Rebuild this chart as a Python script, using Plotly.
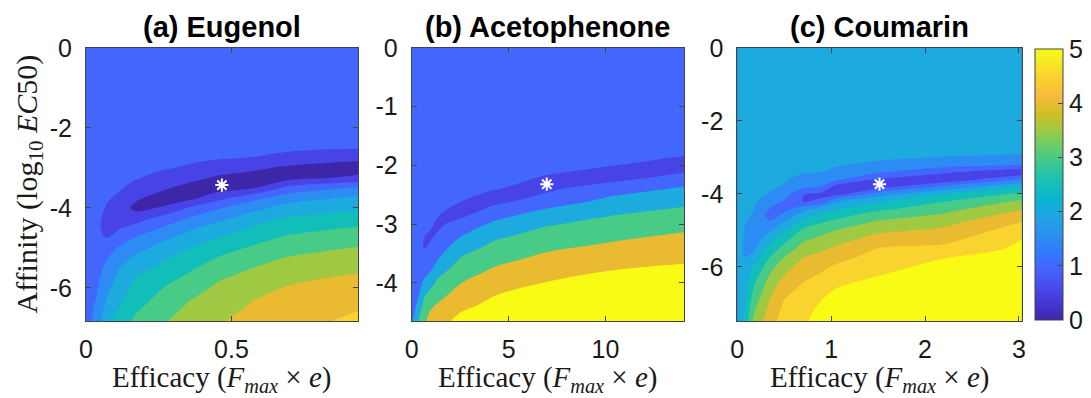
import numpy as np
import plotly.graph_objects as go

# ---------------- data ----------------
titles = ["(a) Eugenol", "(b) Acetophenone", "(c) Coumarin"]

# Panel (a): grid columns (efficacy) and rows (log10 EC50); z listed per column
a_x = [0, 0.034, 0.069, 0.114, 0.172, 0.275, 0.36, 0.45, 0.57, 0.69, 0.81, 0.935]
a_y = [0, -1, -2, -2.5, -2.75, -3, -3.25, -3.5, -3.75, -4, -4.25, -4.5, -4.75,
       -5, -5.25, -5.5, -5.75, -6, -6.25, -6.5, -6.83]
a_cols = [
    [1.4, 1.4, 1.4, 1.4, 1.4, 1.4, 1.4, 1.4, 1.4, 1.4, 1.4, 1.4, 1.4, 1.4, 1.4, 1.4, 1.4, 1.38, 1.34, 1.3, 1.2],
    [1.4, 1.4, 1.38, 1.36, 1.34, 1.32, 1.29, 1.25, 1.2, 1.16, 1.12, 1.1, 1.1, 1.14, 1.2, 1.27, 1.34, 1.42, 1.49, 1.57, 1.65],
    [1.4, 1.39, 1.36, 1.32, 1.29, 1.24, 1.18, 1.11, 1.05, 0.98, 0.9, 0.89, 0.99, 1.22, 1.45, 1.6, 1.725, 1.85, 1.975, 2.1, 2.3],
    [1.4, 1.38, 1.34, 1.28, 1.24, 1.18, 1.11, 1.04, 0.93, 0.78, 0.83, 0.96, 1.24, 1.56, 1.78, 1.99, 2.13, 2.26, 2.39, 2.52, 2.75],
    [1.4, 1.37, 1.3, 1.22, 1.17, 1.1, 1.03, 0.87, 0.58, 0.36, 0.76, 1.19, 1.53, 1.83, 2.09, 2.31, 2.53, 2.65, 2.785, 2.92, 3.1],
    [1.4, 1.36, 1.28, 1.18, 1.12, 1.03, 0.82, 0.55, 0.26, 0.58, 1.21, 1.57, 1.93, 2.21, 2.47, 2.66, 2.85, 3.03, 3.17, 3.31, 3.48],
    [1.4, 1.36, 1.27, 1.16, 1.08, 0.94, 0.66, 0.3, 0.36, 1.07, 1.53, 1.92, 2.22, 2.49, 2.72, 2.93, 3.12, 3.29, 3.47, 3.6, 3.75],
    [1.4, 1.35, 1.25, 1.12, 1.04, 0.8, 0.42, 0.25, 0.82, 1.43, 1.85, 2.19, 2.49, 2.75, 3.01, 3.22, 3.43, 3.58, 3.69, 3.8, 3.95],
    [1.4, 1.35, 1.23, 1.1, 0.99, 0.62, 0.25, 0.42, 1.33, 1.83, 2.21, 2.53, 2.8, 3.06, 3.28, 3.49, 3.66, 3.81, 3.97, 4.05, 4.15],
    [1.4, 1.35, 1.22, 1.08, 0.88, 0.4, 0.3, 1.12, 1.75, 2.19, 2.53, 2.81, 3.07, 3.3, 3.52, 3.7, 3.87, 4.03, 4.11, 4.19, 4.3],
    [1.4, 1.33, 1.18, 1.05, 0.74, 0.28, 0.47, 1.36, 1.94, 2.31, 2.64, 2.93, 3.18, 3.42, 3.63, 3.81, 3.99, 4.11, 4.21, 4.31, 4.45],
    [1.4, 1.32, 1.15, 1.03, 0.63, 0.25, 0.62, 1.57, 2.07, 2.43, 2.74, 3.03, 3.28, 3.52, 3.72, 3.91, 4.07, 4.2, 4.33, 4.46, 4.63],
]

# Panel (b)
b_x = [0, 0.15, 0.35, 0.65, 0.95, 1.35, 2.55, 4.25, 7.0, 10.3, 14.05]
b_y = [0, -1, -1.6, -1.8, -2.0, -2.2, -2.4, -2.6, -2.8, -3.0, -3.2, -3.4, -3.6,
       -3.8, -4.0, -4.2, -4.4, -4.65]
b_cols = [
    [1.6, 1.6, 1.6, 1.6, 1.6, 1.6, 1.6, 1.6, 1.6, 1.6, 1.6, 1.6, 1.6, 1.6, 1.6, 1.6, 1.7, 1.9],
    [1.6, 1.6, 1.59, 1.59, 1.58, 1.57, 1.56, 1.54, 1.52, 1.49, 1.45, 1.41, 1.4, 1.45, 1.55, 1.68, 1.85, 2.2],
    [1.6, 1.59, 1.57, 1.56, 1.54, 1.52, 1.49, 1.45, 1.4, 1.33, 1.25, 1.18, 1.2, 1.4, 1.65, 1.9, 2.35, 3.05],
    [1.6, 1.58, 1.55, 1.53, 1.5, 1.46, 1.41, 1.34, 1.25, 1.14, 1.01, 0.95, 1.36, 1.73, 2.17, 2.86, 3.37, 3.9],
    [1.6, 1.57, 1.53, 1.5, 1.47, 1.42, 1.36, 1.29, 1.2, 1.12, 0.9, 1.1, 1.6, 1.95, 2.6, 3.3, 3.87, 4.25],
    [1.6, 1.56, 1.5, 1.47, 1.43, 1.38, 1.31, 1.23, 1.08, 0.86, 1.09, 1.53, 1.98, 2.66, 3.22, 3.67, 4.12, 4.75],
    [1.6, 1.54, 1.46, 1.41, 1.34, 1.27, 1.17, 1.02, 0.68, 1.32, 1.97, 2.56, 3.11, 3.54, 3.98, 4.42, 4.87, 5.2],
    [1.6, 1.52, 1.4, 1.33, 1.25, 1.14, 1.02, 0.75, 1.4, 2.21, 2.79, 3.28, 3.72, 4.15, 4.56, 4.98, 5.17, 5.4],
    [1.6, 1.5, 1.35, 1.26, 1.14, 0.97, 0.85, 1.35, 2.32, 2.91, 3.39, 3.84, 4.27, 4.69, 5.04, 5.21, 5.39, 5.6],
    [1.6, 1.5, 1.3, 1.2, 1.03, 0.6, 1.53, 2.28, 2.87, 3.34, 3.78, 4.21, 4.63, 5.02, 5.17, 5.31, 5.45, 5.7],
    [1.6, 1.45, 1.2, 1.12, 0.54, 1.29, 2.15, 2.74, 3.25, 3.7, 4.14, 4.53, 4.92, 5.13, 5.29, 5.44, 5.6, 5.8],
]

# Panel (c)
c_x = [0, 0.07, 0.175, 0.35, 0.5, 0.7, 0.88, 1.06, 1.5, 2.2, 3.03]
c_y = [0, -1, -2, -2.6, -2.8, -3.0, -3.2, -3.4, -3.6, -3.8, -4.0, -4.2, -4.4,
       -4.6, -4.8, -5.0, -5.25, -5.5, -5.75, -6.0, -6.5, -7.0, -7.48]
c_cols = [
    [2.35, 2.35, 2.35, 2.35, 2.35, 2.35, 2.35, 2.35, 2.35, 2.35, 2.35, 2.35, 2.35, 2.35, 2.35, 2.35, 2.35, 2.35, 2.35, 2.35, 2.35, 2.35, 2.3],
    [2.35, 2.34, 2.33, 2.32, 2.31, 2.3, 2.29, 2.28, 2.26, 2.24, 2.22, 2.19, 2.16, 2.12, 2.07, 2.02, 1.96, 1.92, 2.01, 2.08, 2.22, 2.38, 2.55],
    [2.35, 2.33, 2.3, 2.27, 2.26, 2.24, 2.22, 2.2, 2.17, 2.14, 2.11, 2.07, 2.03, 1.93, 1.6, 1.53, 1.7, 1.9, 2.17, 2.51, 2.96, 3.3, 3.6],
    [2.35, 2.32, 2.28, 2.23, 2.21, 2.18, 2.15, 2.11, 2.07, 2.03, 1.98, 1.74, 1.49, 1.3, 1.64, 1.95, 2.34, 2.7, 3.04, 3.34, 3.77, 4.09, 4.3],
    [2.35, 2.32, 2.27, 2.21, 2.18, 2.15, 2.11, 2.07, 2.03, 1.98, 1.74, 1.45, 1.32, 1.65, 2.07, 2.44, 2.84, 3.2, 3.53, 3.81, 4.23, 4.56, 4.7],
    [2.35, 2.31, 2.25, 2.18, 2.14, 2.1, 2.06, 2.03, 1.91, 1.67, 1.02, 0.97, 1.75, 2.35, 2.74, 3.08, 3.42, 3.71, 3.99, 4.2, 4.55, 4.75, 4.93],
    [2.35, 2.3, 2.24, 2.16, 2.12, 2.09, 2.05, 2.01, 1.76, 1.49, 0.92, 1.05, 2.12, 2.6, 2.99, 3.29, 3.62, 3.91, 4.15, 4.38, 4.73, 5.02, 5.15],
    [2.35, 2.3, 2.22, 2.15, 2.11, 2.07, 2.03, 1.91, 1.59, 0.8, 0.78, 1.96, 2.45, 2.86, 3.2, 3.51, 3.82, 4.1, 4.35, 4.58, 4.97, 5.15, 5.25],
    [2.35, 2.3, 2.22, 2.14, 2.1, 2.05, 1.93, 1.56, 0.99, 0.75, 1.75, 2.39, 2.86, 3.28, 3.62, 3.89, 4.21, 4.51, 4.69, 4.88, 5.12, 5.25, 5.32],
    [2.35, 2.3, 2.2, 2.12, 2.08, 1.99, 1.7, 1.1, 0.6, 1.6, 2.49, 2.97, 3.3, 3.6, 3.87, 4.1, 4.35, 4.64, 4.99, 5.12, 5.25, 5.33, 5.4],
    [2.35, 2.3, 2.25, 2.2, 2.15, 1.87, 1.53, 0.6, 1.52, 2.48, 3.1, 3.57, 3.93, 4.25, 4.54, 4.75, 5.01, 5.1, 5.2, 5.28, 5.4, 5.45, 5.45],
]

# best-fit markers (efficacy, log10 EC50)
star_x = [0.467, 6.97, 1.515]
star_y = [-3.43, -2.32, -3.73]

# tick values
a_xticks = [0, 0.5]
a_yticks = [0, -2, -4, -6]
b_xticks = [0, 5, 10]
b_yticks = [0, -1, -2, -3, -4]
c_xticks = [0, 1, 2, 3]
c_yticks = [0, -2, -4, -6]
cbar_ticks = [0, 1, 2, 3, 4, 5]

# ---------------- styling ----------------
W, H = 1091, 398
# parula band colours for levels 0, 0.5, ..., 5
band = ["#3e26a8", "#4743e7", "#4367fd", "#2d8cf3", "#1caadf", "#12beb9",
        "#48cb86", "#9fc942", "#eaba31", "#fad42e", "#f9fb15"]


def step_scale(colors):
    n = len(colors)
    s = []
    for k, col in enumerate(colors):
        s.append([k / n, col])
        s.append([(k + 1) / n, col])
    return s


cs_ac = step_scale(band)
cs_b = step_scale([band[1], band[2], band[4], band[6], band[8], band[10]])

parula = ["#3e26a8", "#4537d5", "#484df0", "#4563fd", "#327cfc", "#2b91ef",
          "#20a5e3", "#08b5d0", "#19bfb6", "#37c897", "#64cd6f", "#9dc943",
          "#d1bf27", "#f8ba3d", "#fccf30", "#f5e924", "#f9fb15"]
pos = [0, 4, 8, 12, 16, 20, 24, 28, 32, 36, 40, 44, 48, 52, 56, 60, 63]
cs_cont = [[p / 63, c] for p, c in zip(pos, parula)]


def px(v):
    return v / W


def py(v):
    return 1 - v / H


xdom = [[86, 358], [411.7, 684], [737.3, 1021.7]]
ydom = [py(321), py(48)]

fig = go.Figure()

panels = [
    (a_x, a_y, a_cols, cs_ac, 0, 5.5, 0.5),
    (b_x, b_y, b_cols, cs_b, 0, 6, 1),
    (c_x, c_y, c_cols, cs_ac, 0, 5.5, 0.5),
]
for i, (xs, ys, cols, cs, z0, z1, dz) in enumerate(panels):
    sfx = "" if i == 0 else str(i + 1)
    z = np.array(cols).T.tolist()
    fig.add_trace(go.Contour(
        x=xs, y=ys, z=z, xaxis="x" + sfx, yaxis="y" + sfx,
        colorscale=cs, zmin=z0, zmax=z1, autocontour=False,
        contours=dict(start=z0, end=z1, size=dz, coloring="fill", showlines=False),
        line=dict(width=0, smoothing=1.0), showscale=False, hoverinfo="skip"))
    fig.add_trace(go.Scatter(
        x=[star_x[i]], y=[star_y[i]], xaxis="x" + sfx, yaxis="y" + sfx,
        mode="markers", marker=dict(symbol="asterisk", size=11,
                                    line=dict(color="white", width=2)),
        hoverinfo="skip"))

# colour bar
fig.add_trace(go.Scatter(
    x=[None], y=[None], xaxis="x3", yaxis="y3", mode="markers",
    marker=dict(color=[0], cmin=0, cmax=5, colorscale=cs_cont, showscale=True,
                colorbar=dict(x=px(1035), xanchor="left", y=py(184.5), yanchor="middle",
                              thickness=28, thicknessmode="pixels",
                              len=271, lenmode="pixels", xpad=0, ypad=0,
                              outlinewidth=1, outlinecolor="#444444",
                              tickvals=cbar_ticks, ticktext=[str(t) for t in cbar_ticks],
                              ticks="inside", ticklen=5, tickcolor="#444444",
                              tickfont=dict(family="Liberation Sans", size=25, color="#1a1a1a"))),
    hoverinfo="skip"))

tickfont = dict(family="Liberation Sans", size=25, color="#1a1a1a")
axcommon = dict(showgrid=False, zeroline=False, showline=True, linecolor="#444444",
                linewidth=1, mirror="ticks", ticks="inside", ticklen=5,
                tickcolor="#444444", tickfont=tickfont, automargin=False)


def lab(v):
    return "%g" % v


xt = [a_xticks, b_xticks, c_xticks]
yt = [a_yticks, b_yticks, c_yticks]
xr = [[0, a_x[-1]], [0, b_x[-1]], [0, c_x[-1]]]
yr = [[a_y[-1], 0], [b_y[-1], 0], [c_y[-1], 0]]
layout = {}
for i in range(3):
    sfx = "" if i == 0 else str(i + 1)
    layout["xaxis" + sfx] = dict(axcommon, domain=[px(xdom[i][0]), px(xdom[i][1])],
                                 anchor="y" + sfx, range=xr[i], tickvals=xt[i],
                                 ticktext=[lab(v) for v in xt[i]], ticklabelstandoff=6)
    layout["yaxis" + sfx] = dict(axcommon, domain=ydom, anchor="x" + sfx, range=yr[i],
                                 tickvals=yt[i], ticktext=[lab(v) for v in yt[i]],
                                 ticklabelstandoff=8)

ann = []
for i in range(3):
    cx = px((xdom[i][0] + xdom[i][1]) / 2)
    ann.append(dict(x=cx, y=py(27), xref="paper", yref="paper", showarrow=False,
                    text="<b>" + titles[i] + "</b>", xanchor="center", yanchor="middle",
                    font=dict(family="Liberation Sans", size=29, color="#000000")))
    ann.append(dict(x=cx, y=py(379), xref="paper", yref="paper", showarrow=False,
                    text="Efficacy (<i>F</i><sub><i>max</i></sub> × <i>e</i>)",
                    xanchor="center", yanchor="middle",
                    font=dict(family="Liberation Serif", size=29, color="#1a1a1a")))
ann.append(dict(x=px(28), y=py(184.5), xref="paper", yref="paper", showarrow=False,
                text="Affinity (log<sub>10</sub> <i>EC</i>50)", textangle=-90,
                xanchor="center", yanchor="middle",
                font=dict(family="Liberation Serif", size=30, color="#1a1a1a")))

fig.update_layout(width=W, height=H,
                  margin=dict(l=0, r=0, t=0, b=0, pad=0, autoexpand=False),
                  paper_bgcolor="white", plot_bgcolor="white", showlegend=False,
                  annotations=ann, **layout)
fig.write_html("out.html", config={"displayModeBar": False},
               post_script="document.body.style.margin='0px';document.body.style.overflow='hidden';")
